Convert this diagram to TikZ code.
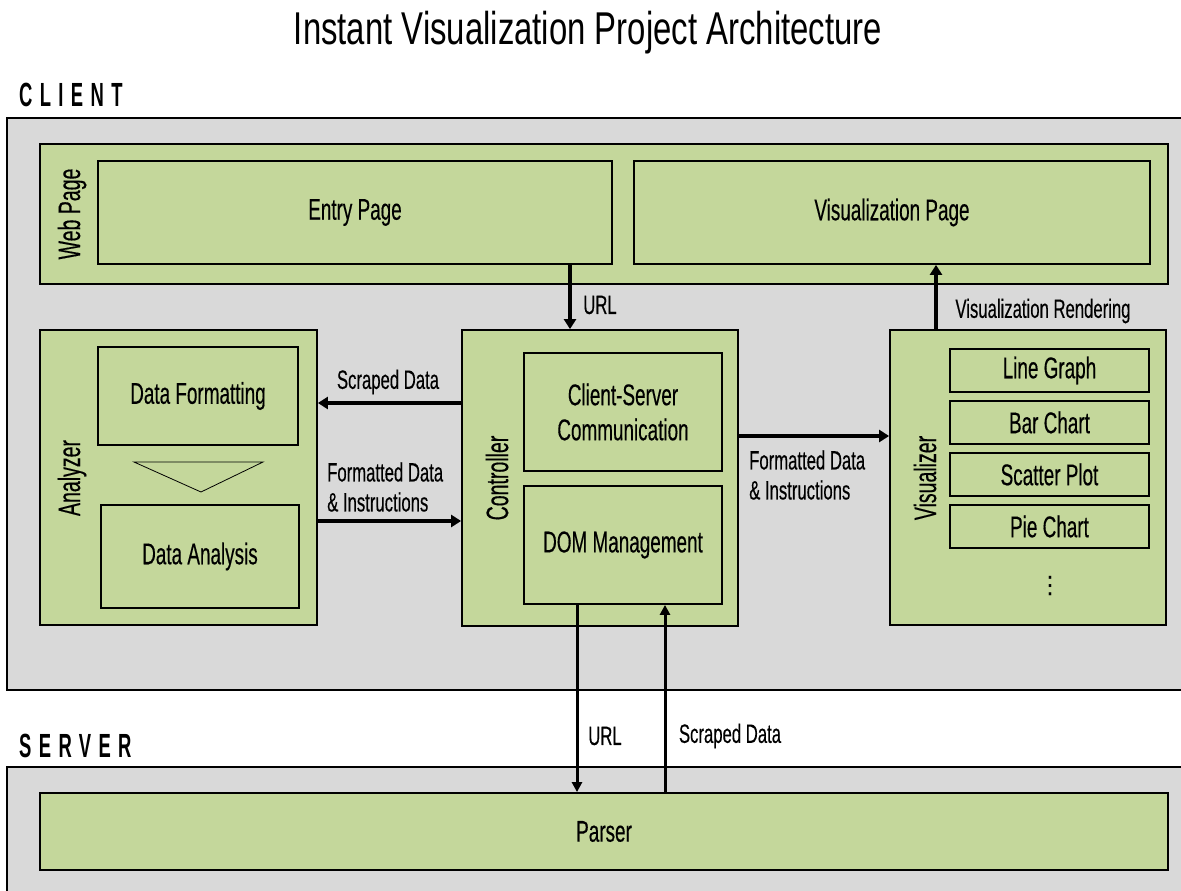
\documentclass[tikz,border=0pt]{standalone}
\usepackage{fontspec}
\setmainfont{Liberation Sans}[FakeStretch=0.63,FakeBold=0.3]
\newfontfamily\titlefont{Liberation Sans}[FakeStretch=0.715]
\newfontfamily\headfont{Liberation Sans}[FakeStretch=0.55,LetterSpace=22]
\newfontfamily\symfont{DejaVu Sans}
\usetikzlibrary{arrows.meta}
\definecolor{boxgreen}{HTML}{C4D79B}
\definecolor{areagray}{HTML}{D9D9D9}
\tikzset{
  area/.style={draw=black, fill=areagray, line width=2pt, inner sep=0pt},
  gbox/.style={draw=black, fill=boxgreen, line width=1.8pt, inner sep=0pt, align=center,
    font=\fontsize{30}{35}\selectfont},
  sidelabel/.style={rotate=90, inner sep=0pt, font=\fontsize{31}{35}\selectfont},
  lbl/.style={inner sep=0pt, align=left, font=\fontsize{26.5}{30}\selectfont},
  heading/.style={inner sep=0pt, anchor=west, font=\headfont\bfseries\fontsize{33.5}{36}\selectfont},
  flow/.style={line width=4pt, -{Triangle[length=10pt,width=12pt]}},
  sflow/.style={line width=3pt, -{Triangle[length=10pt,width=10pt]}},
}
\begin{document}
\begin{tikzpicture}[x=1pt,y=-1pt]
\useasboundingbox (0,0) rectangle (1181,891);
\fill[white] (0,0) rectangle (1181,891);

% title and headings
\node[inner sep=0pt, font=\titlefont\fontsize{46}{50}\selectfont] (title) at (588,33) {Instant Visualization Project Architecture};
\node[heading] (clienthead) at (19,95) {CLIENT};
\node[heading] (serverhead) at (19,746) {SERVER};

% areas
\node[area, minimum width=1188pt, minimum height=572pt] (client) at (601,404) {};
\node[area, minimum width=1188pt, minimum height=133pt] (server) at (601,833.5) {};

% web page
\node[gbox, minimum width=1128pt, minimum height=140pt] (webpage) at (604,214) {};
\node[sidelabel] (weblbl) at (72,214) {Web Page};
\node[gbox, minimum width=514pt, minimum height=103pt] (entry) at (355,212.5) {Entry Page};
\node[gbox, minimum width=516pt, minimum height=103pt] (vispage) at (892,212.5) {Visualization Page};

% analyzer
\node[gbox, minimum width=277pt, minimum height=295pt] (analyzer) at (178.5,477.5) {};
\node[sidelabel] (anllbl) at (72,478) {Analyzer};
\node[gbox, minimum width=200pt, minimum height=98pt] (dataformat) at (198,396) {Data Formatting};
\node[gbox, minimum width=198pt, minimum height=103pt] (dataanalysis) at (200,556.5) {Data Analysis};
\draw[line width=0.8pt] (134,462) -- (263,462) -- (201,492) -- cycle;

% controller
\node[gbox, minimum width=276pt, minimum height=296pt] (controller) at (600,478) {};
\node[sidelabel] (ctrllbl) at (497,478) {Controller};
\node[gbox, minimum width=198pt, minimum height=118pt] (csc) at (623,412) {Client-Server\\Communication};
\node[gbox, minimum width=198pt, minimum height=118pt] (dom) at (623,545) {DOM Management};

% visualizer
\node[gbox, minimum width=276pt, minimum height=295pt] (visualizer) at (1028,477.5) {};
\node[sidelabel] (vislbl) at (925,478) {Visualizer};
\node[gbox, minimum width=199pt, minimum height=43pt] (line) at (1049.5,370.5) {Line Graph};
\node[gbox, minimum width=199pt, minimum height=43pt] (bar) at (1049.5,422.5) {Bar Chart};
\node[gbox, minimum width=199pt, minimum height=43pt] (scatter) at (1049.5,474.5) {Scatter Plot};
\node[gbox, minimum width=199pt, minimum height=43pt] (pie) at (1049.5,526.5) {Pie Chart};
\node[inner sep=0pt, font=\symfont\fontsize{24}{26}\selectfont] (dots) at (1050,586) {⋮};

% parser
\node[gbox, minimum width=1128pt, minimum height=77pt] (parser) at (604,831.5) {Parser};

% connector guides
\coordinate (xurl) at (570,0);
\coordinate (xrend) at (936,0);
\coordinate (yscr) at (0,403);
\coordinate (yfmt) at (0,521);
\coordinate (yvis) at (0,436);
\coordinate (xsurl) at (577,0);
\coordinate (xsscr) at (665,0);

% connectors
\draw[flow] (entry.south -| xurl) -- (controller.north -| xurl);
\draw[flow] (visualizer.north -| xrend) -- (vispage.south -| xrend);
\draw[flow] (controller.west |- yscr) -- (analyzer.east |- yscr);
\draw[flow] (analyzer.east |- yfmt) -- (controller.west |- yfmt);
\draw[flow] (controller.east |- yvis) -- (visualizer.west |- yvis);
\draw[sflow] (dom.south -| xsurl) -- (parser.north -| xsurl);
\draw[sflow] (parser.north -| xsscr) -- (dom.south -| xsscr);

% connector labels
\node[lbl] (lurl) at (600,305) {URL};
\node[lbl] (lrend) at (1043,311) {Visualization Rendering};
\node[lbl] (lscr) at (388,382) {Scraped Data};
\node[lbl, anchor=west] (lfmt) at (327,487) {Formatted Data\\\& Instructions};
\node[lbl, anchor=west] (lvis) at (749,475) {Formatted Data\\\& Instructions};
\node[lbl] (lsurl) at (605,736) {URL};
\node[lbl] (lsscr) at (730,736) {Scraped Data};
\end{tikzpicture}
\end{document}
